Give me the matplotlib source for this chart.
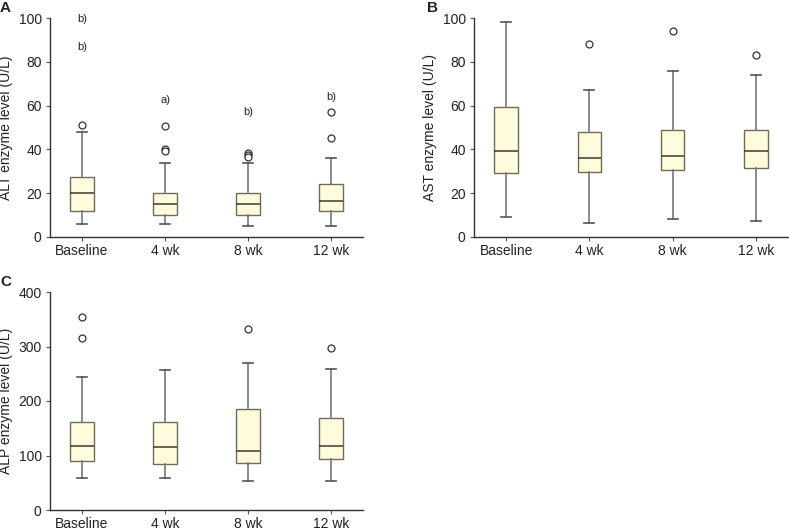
import matplotlib.pyplot as plt

plt.rcParams['font.family'] = ['Liberation Sans', 'DejaVu Sans']

groups = ['Baseline', '4 wk', '8 wk', '12 wk']

# whisker low, Q1, median, Q3, whisker high
alt_stats = [[6, 12, 20, 27.2, 48], [6, 10.2, 15.2, 20, 34],
             [5, 10.2, 15, 20, 34], [5, 12, 16.4, 24, 36]]
alt_fliers = [[51.3], [50.5, 40.3, 39.1], [38.5, 37.6, 36.5], [57.2, 45.4]]
alt_notes = [[('b)', 99.5), ('b)', 86.6)], [('a)', 62.7)],
             [('b)', 57)], [('b)', 63.8)]]

ast_stats = [[9, 29.2, 39.1, 59.2, 98.2], [6.4, 29.7, 36.2, 47.8, 67.1],
             [8.2, 30.4, 37.1, 49, 75.9], [7.5, 31.5, 39.1, 49, 74]]
ast_fliers = [[], [88.3], [93.9], [83]]

alp_stats = [[58, 89, 117, 162, 244], [59, 84, 116, 162, 256],
             [54, 87, 109, 186, 270], [54, 93, 117, 168, 259]]
alp_fliers = [[354, 316], [], [333], [297]]


def make_stats(stats, fliers):
    out = []
    for (lo, q1, med, q3, hi), fl in zip(stats, fliers):
        out.append(dict(whislo=lo, q1=q1, med=med, q3=q3, whishi=hi,
                        fliers=fl))
    return out


def draw_panel(ax, stats, fliers, ymax, ystep, ylabel, label_x):
    ax.bxp(make_stats(stats, fliers), positions=range(1, 5), widths=0.28,
           patch_artist=True, showcaps=True,
           boxprops=dict(facecolor='#fffbdc', edgecolor='#6e6b58', lw=1.0),
           medianprops=dict(color='#3a3a30', lw=1.1),
           whiskerprops=dict(color='#777777', lw=1.2),
           capprops=dict(color='#555555', lw=1.2),
           capwidths=0.12,
           flierprops=dict(marker='o', markersize=5, markerfacecolor='white',
                           markeredgecolor='#333333', markeredgewidth=0.9))
    ax.set_xlim(0.614, 4.386)
    ax.set_ylim(0, ymax)
    ax.set_yticks(range(0, ymax + 1, ystep))
    ax.set_xticks(range(1, 5))
    ax.set_xticklabels(groups)
    ax.spines['top'].set_visible(False)
    ax.spines['right'].set_visible(False)
    for s in ['left', 'bottom']:
        ax.spines[s].set_color('#333333')
        ax.spines[s].set_linewidth(1.0)
    ax.tick_params(direction='out', length=3, pad=3, color='#555555',
                   labelsize=10, labelcolor='#222222')
    ax.tick_params(axis='x', pad=2)
    ax.set_ylabel(ylabel, fontsize=10, color='#222222')
    ax.yaxis.set_label_coords(label_x, 0.5)


fig = plt.figure(figsize=(7.89, 5.30), dpi=100)
axA = fig.add_axes([50 / 789, 1 - 237 / 530, 313 / 789, 219 / 530])
axB = fig.add_axes([474 / 789, 1 - 237 / 530, 314 / 789, 219 / 530])
axC = fig.add_axes([50 / 789, 1 - 510 / 530, 313 / 789, 218 / 530])

draw_panel(axA, alt_stats, alt_fliers, 100, 20, 'ALT enzyme level (U/L)', -0.118)
draw_panel(axB, ast_stats, ast_fliers, 100, 20, 'AST enzyme level (U/L)', -0.118)
draw_panel(axC, alp_stats, alp_fliers, 400, 100, 'ALP enzyme level (U/L)', -0.118)

for i, notes in enumerate(alt_notes):
    for label, y in notes:
        axA.text(i + 1, y, label, ha='center', va='center', fontsize=8,
                 color='#222222')

for letter, px, py in [('A', 0, 1), ('B', 427, 1), ('C', 0, 275)]:
    fig.text(px / 789, 1 - py / 530, letter, fontsize=11, fontweight='bold',
             ha='left', va='top', color='#222222')

fig.savefig('out.png', dpi=100)
